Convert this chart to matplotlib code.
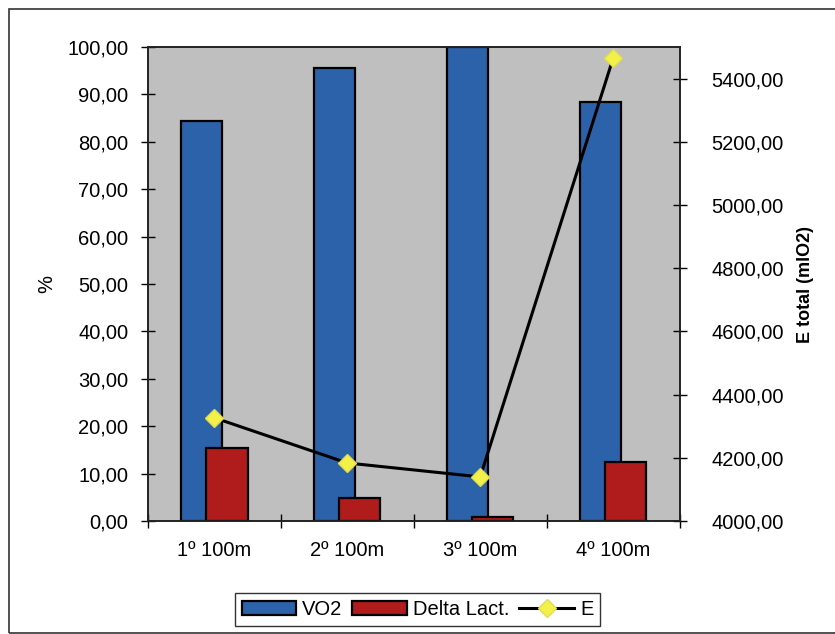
import numpy as np
import matplotlib.pyplot as plt
from matplotlib.patches import Rectangle
from matplotlib.ticker import FuncFormatter

plt.rcParams['font.family'] = ['Liberation Sans', 'DejaVu Sans']

# data per 100 m split
laps = ["1º 100m", "2º 100m", "3º 100m", "4º 100m"]
vo2 = [84.4, 95.5, 100.0, 88.4]
delta_lact = [15.4, 4.9, 0.8, 12.5]
e_total = [4327, 4184, 4140, 5465]

blue = "#2c62aa"
red = "#b01c1c"
grey = "#bfbfbf"
fs = 14.5

fig = plt.figure(figsize=(8.35, 6.34), dpi=100)
ax = fig.add_axes([0.177, 0.178, 0.637, 0.748])

x = np.arange(len(laps))
w = 0.31
ax.bar(x - 0.095, vo2, w, color=blue, edgecolor="black", linewidth=1.6, label="VO2", zorder=2)
ax.bar(x + 0.095, delta_lact, w, color=red, edgecolor="black", linewidth=1.6, label="Delta Lact.", zorder=3)

ax.set_facecolor(grey)
ax.set_xlim(-0.5, len(laps) - 0.5)
ax.set_ylim(0, 100)
ax.set_yticks(np.arange(0, 101, 10))
fmt = FuncFormatter(lambda v, p: f"{v:.2f}".replace(".", ","))
ax.yaxis.set_major_formatter(fmt)
ax.set_xticks(x)
ax.set_xticklabels(laps)
ax.set_xticks(np.arange(-0.5, len(laps)), minor=True)
ax.tick_params(axis="x", which="major", length=0, labelsize=fs, pad=14)
ax.tick_params(axis="x", which="minor", direction="inout", length=10, width=1)
ax.tick_params(axis="y", direction="inout", length=10, width=1, labelsize=fs, pad=9)
ax.set_ylabel("%", fontsize=fs, labelpad=8)
for s in ax.spines.values():
    s.set_linewidth(1.2)
    s.set_color("#222222")

ax2 = ax.twinx()
ax2.plot(x, e_total, color="black", linewidth=2.2, marker="D", markersize=9,
         markerfacecolor="#f4f04a", markeredgecolor="#e0dc50", label="E", zorder=4)
ax2.set_ylim(4000, 5500)
ax2.set_yticks(np.arange(4000, 5401, 200))
ax2.yaxis.set_major_formatter(fmt)
ax2.tick_params(axis="y", direction="inout", length=10, width=1, labelsize=fs, pad=18)
ax2.set_ylabel("E total (mlO2)", fontsize=13, fontweight="bold", labelpad=9)
for s in ax2.spines.values():
    s.set_linewidth(1.2)
    s.set_color("#222222")

h1, l1 = ax.get_legend_handles_labels()
h2, l2 = ax2.get_legend_handles_labels()
leg = fig.legend(h1 + h2, l1 + l2, loc="center", bbox_to_anchor=(0.5, 0.038), ncol=3,
                 fontsize=fs, frameon=True, fancybox=False, edgecolor="black",
                 handlelength=2.7, handletextpad=0.3, columnspacing=0.5,
                 borderpad=0.35, borderaxespad=0)
leg.get_frame().set_linewidth(1.0)

# outer chart border
fig.patches.append(Rectangle((9 / 835, 1 / 634), 830 / 835, 624 / 634, transform=fig.transFigure,
                             fill=False, edgecolor="#333333", linewidth=1.2))

fig.savefig("out.png", dpi=100)
